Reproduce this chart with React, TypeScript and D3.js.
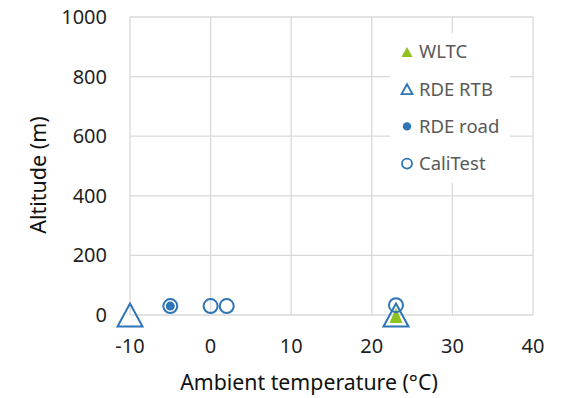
import React from "react";
import * as d3 from "d3";

const xTicks = [-10, 0, 10, 20, 30, 40];
const yTicks = [0, 200, 400, 600, 800, 1000];

const wltcTemp = [23];
const wltcAlt = [0];
const rtbTemp = [-10, 23];
const rtbAlt = [0, 0];
const roadTemp = [-5];
const roadAlt = [30];
const caliTemp = [-5, 0, 2, 23];
const caliAlt = [30, 30, 30, 33];

const legendItems = ["WLTC", "RDE RTB", "RDE road", "CaliTest"];

const BLUE = "#2E75B6";
const GREEN = "#8DC21F";
const GRID = "#D9D9D9";
const FONT = "'Noto Sans', sans-serif";

function tri(cx: number, cy: number, w: number, h: number) {
  return `M${cx},${cy - h / 2}L${cx + w / 2},${cy + h / 2}L${cx - w / 2},${cy + h / 2}Z`;
}

export default function App() {
  const W = 569, H = 398;
  const x = d3.scaleLinear().domain([-10, 40]).range([130, 533]);
  const y = d3.scaleLinear().domain([0, 1000]).range([315, 17]);

  return (
    <div style={{ position: "fixed", left: 0, top: 0 }}>
      <svg width={W} height={H} style={{ display: "block", background: "#fff" }}>
        <rect width={W} height={H} fill="#fff" />
        {xTicks.map((t) => (
          <line key={"gx" + t} x1={x(t)} x2={x(t)} y1={y(0)} y2={y(1000)} stroke={GRID} strokeWidth={1.3} />
        ))}
        {yTicks.map((t) => (
          <line key={"gy" + t} x1={x(-10)} x2={x(40)} y1={y(t)} y2={y(t)} stroke={GRID} strokeWidth={1.3} />
        ))}
        {yTicks.map((t) => (
          <text key={"ty" + t} x={107} y={y(t)} dy="0.35em" textAnchor="end" fontFamily={FONT} fontSize={20} fill="#1f1f1f">
            {t}
          </text>
        ))}
        {xTicks.map((t) => (
          <text key={"tx" + t} x={x(t)} y={346} dy="0.35em" textAnchor="middle" fontFamily={FONT} fontSize={20} fill="#1f1f1f">
            {t}
          </text>
        ))}
        <text x={309} y={383} dy="0.35em" textAnchor="middle" fontFamily={FONT} fontSize={21.3} fill="#111">
          Ambient temperature (°C)
        </text>
        <text transform={`translate(38,175) rotate(-90)`} dy="0.35em" textAnchor="middle" fontFamily={FONT} fontSize={21.5} fill="#111">
          Altitude (m)
        </text>

        {/* legend */}
        <rect x={390} y={33} width={120} height={150} fill="#fff" />
        {legendItems.map((name, i) => {
          const cy = 52 + i * 37.2;
          const mx = 407;
          let marker: React.ReactNode = null;
          if (i === 0) marker = <path d={tri(mx, cy, 11, 10)} fill={GREEN} />;
          if (i === 1) marker = <path d={tri(mx, cy, 11, 10)} fill="none" stroke={BLUE} strokeWidth={1.8} />;
          if (i === 2) marker = <circle cx={mx} cy={cy} r={4.2} fill={BLUE} />;
          if (i === 3) marker = <circle cx={mx} cy={cy} r={5} fill="none" stroke={BLUE} strokeWidth={1.8} />;
          return (
            <g key={name}>
              {marker}
              <text x={419} y={cy} dy="0.35em" fontFamily={FONT} fontSize={18.5} fill="#595959">
                {name}
              </text>
            </g>
          );
        })}

        {/* series */}
        {wltcTemp.map((t, i) => (
          <path key={"w" + i} d={tri(x(t), y(wltcAlt[i]) + 0.5, 13, 15)} fill={GREEN} />
        ))}
        {rtbTemp.map((t, i) => (
          <path key={"r" + i} d={tri(x(t), y(rtbAlt[i]), 25, 23)} fill="none" stroke={BLUE} strokeWidth={2} />
        ))}
        {roadTemp.map((t, i) => (
          <circle key={"d" + i} cx={x(t)} cy={y(roadAlt[i])} r={4.5} fill={BLUE} />
        ))}
        {caliTemp.map((t, i) => (
          <circle key={"c" + i} cx={x(t)} cy={y(caliAlt[i])} r={7} fill="none" stroke={BLUE} strokeWidth={2} />
        ))}
      </svg>
    </div>
  );
}
